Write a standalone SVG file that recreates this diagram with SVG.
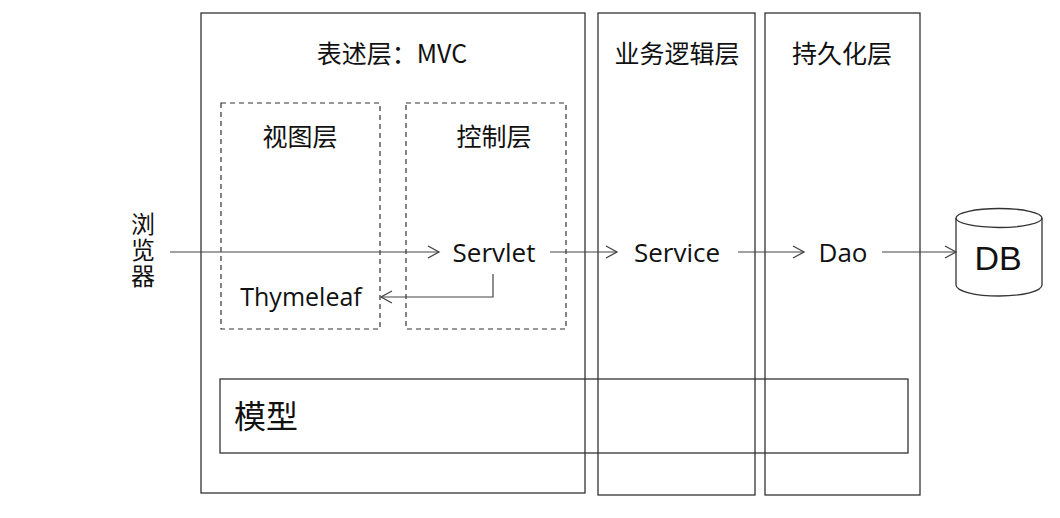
<svg xmlns="http://www.w3.org/2000/svg" width="1060" height="518" viewBox="0 0 1060 518">
<style>
.box{fill:none;stroke:#333;stroke-width:1.3}
.dash{fill:none;stroke:#333;stroke-width:1.2;stroke-dasharray:5,4}
.ln{fill:none;stroke:#444;stroke-width:1.2}
text{font-family:"Noto Sans CJK SC","Liberation Sans",sans-serif;fill:#111}
.t{font-size:25px;text-anchor:middle}
.n{font-size:26px;text-anchor:middle;font-family:"Open Sans","Liberation Sans",sans-serif}
</style>
<defs>
<marker id="ah" markerWidth="14" markerHeight="14" refX="12" refY="7" orient="auto" markerUnits="userSpaceOnUse">
<path d="M1,1 L12,7 L1,13" fill="none" stroke="#444" stroke-width="1.3"/>
</marker>
</defs>
<rect width="1060" height="518" fill="#fff"/>
<g id="mvc"><rect class="box" x="201" y="13" width="384" height="480"/><text class="t" x="392" y="63">表述层：MVC</text></g>
<g id="biz"><rect class="box" x="598" y="13" width="157" height="482"/><text class="t" x="677" y="63">业务逻辑层</text></g>
<g id="persist"><rect class="box" x="765" y="13" width="155" height="482"/><text class="t" x="842" y="63">持久化层</text></g>
<g id="view"><rect class="dash" x="221" y="103" width="159" height="226"/><text class="t" x="300" y="146">视图层</text></g>
<g id="ctrl"><rect class="dash" x="406" y="103" width="160" height="226"/><text class="t" x="494" y="146">控制层</text></g>
<g id="model"><rect class="box" x="220" y="379" width="688" height="74"/><text x="234" y="428" style="font-size:32px">模型</text></g>
<g id="browser"><text x="143" y="212" style="font-size:24px;writing-mode:tb;letter-spacing:2px">浏览器</text></g>
<g id="servlet"><text class="n" x="494" y="262">Servlet</text></g>
<g id="thymeleaf"><text class="n" x="301" y="306" style="font-size:25px">Thymeleaf</text></g>
<g id="service"><text class="n" x="677" y="262">Service</text></g>
<g id="dao"><text class="n" x="843" y="262">Dao</text></g>
<g id="db">
<path d="M956,218 A43,9.5 0 0 1 1042,218 L1042,285 A43,11 0 0 1 956,285 Z" fill="#fff" stroke="#333" stroke-width="1.3"/>
<path d="M956,218 A43,9.5 0 0 0 1042,218" fill="none" stroke="#333" stroke-width="1.3"/>
<text x="998" y="270" text-anchor="middle" style="font-size:34px;font-family:'Liberation Sans',sans-serif">DB</text>
</g>
<g id="connectors">
<line class="ln" x1="170" y1="252" x2="439" y2="252" marker-end="url(#ah)"/>
<line class="ln" x1="550" y1="252" x2="617" y2="252" marker-end="url(#ah)"/>
<line class="ln" x1="738" y1="252" x2="804" y2="252" marker-end="url(#ah)"/>
<line class="ln" x1="882" y1="252" x2="956" y2="252" marker-end="url(#ah)"/>
<polyline class="ln" points="493,274 493,297 381,297" marker-end="url(#ah)"/>
</g>
</svg>
